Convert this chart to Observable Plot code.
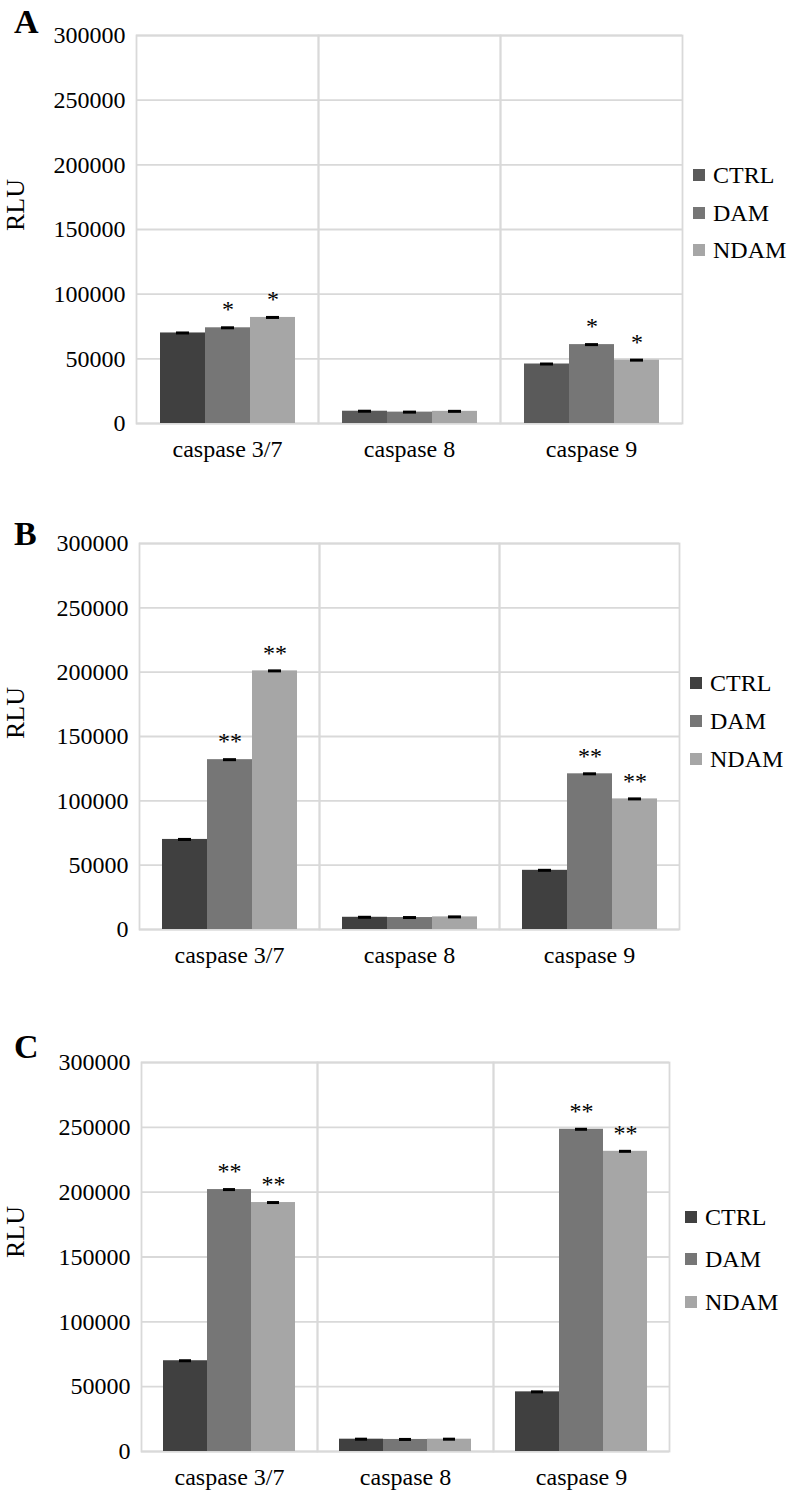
<!DOCTYPE html>
<html>
<head>
<meta charset="utf-8">
<script src="https://cdn.jsdelivr.net/npm/d3@7"></script>
<script src="https://cdn.jsdelivr.net/npm/@observablehq/plot@0.6"></script>
<style>
  html, body { margin: 0; padding: 0; background: #fff; }
  #chart { position: relative; width: 787px; height: 1495px; overflow: hidden; }
  #chart svg { position: absolute; left: 0; }
  #chart svg text { font-family: 'Liberation Serif', 'Times New Roman', serif !important; }
</style>
</head>
<body>
<div id="chart"></div>
<script>
// ---- Data ----
const categories = ["caspase 3/7", "caspase 8", "caspase 9"];
const groups = ["CTRL", "DAM", "NDAM"];
const yTicks = [0, 50000, 100000, 150000, 200000, 250000, 300000];

// Panel A
const A_CTRL = [70000, 9500, 46000];
const A_DAM  = [74000, 8800, 61000];
const A_NDAM = [82000, 9400, 49000];
const A_sig_CTRL = ["", "", ""];
const A_sig_DAM  = ["*", "", "*"];
const A_sig_NDAM = ["*", "", "*"];

// Panel B
const B_CTRL = [70000, 9500, 46000];
const B_DAM  = [132000, 9300, 121000];
const B_NDAM = [201000, 9800, 101500];
const B_sig_CTRL = ["", "", ""];
const B_sig_DAM  = ["**", "", "**"];
const B_sig_NDAM = ["**", "", "**"];

// Panel C
const C_CTRL = [70000, 9500, 46000];
const C_DAM  = [202000, 9300, 248500];
const C_NDAM = [192000, 9500, 231500];
const C_sig_CTRL = ["", "", ""];
const C_sig_DAM  = ["**", "", "**"];
const C_sig_NDAM = ["**", "", "**"];

// ---- Styles ----
const fontFamily = "'Liberation Serif', 'Times New Roman', serif";
const gridColor = "#d9d9d9";
const baseColors = {CTRL: "#404040", DAM: "#767676", NDAM: "#a6a6a6"};

const panels = [
  {letter: "A", values: {CTRL: A_CTRL, DAM: A_DAM, NDAM: A_NDAM},
   sig: {CTRL: A_sig_CTRL, DAM: A_sig_DAM, NDAM: A_sig_NDAM},
   ctrlColors: ["#404040", "#5a5a5a", "#5a5a5a"], legendCtrl: "#5a5a5a",
   top: 0, height: 480, mt: 35, mb: 57, ml: 135, mr: 105,
   letterY: 33, rluY: 205, legendX: 693, legendY: [175, 213, 250]},
  {letter: "B", values: {CTRL: B_CTRL, DAM: B_DAM, NDAM: B_NDAM},
   sig: {CTRL: B_sig_CTRL, DAM: B_sig_DAM, NDAM: B_sig_NDAM},
   ctrlColors: ["#404040", "#404040", "#404040"], legendCtrl: "#404040",
   top: 500, height: 490, mt: 43, mb: 61, ml: 138, mr: 108,
   letterY: 45, rluY: 213, legendX: 690, legendY: [183, 221, 259]},
  {letter: "C", values: {CTRL: C_CTRL, DAM: C_DAM, NDAM: C_NDAM},
   sig: {CTRL: C_sig_CTRL, DAM: C_sig_DAM, NDAM: C_sig_NDAM},
   ctrlColors: ["#404040", "#404040", "#404040"], legendCtrl: "#404040",
   top: 1010, height: 485, mt: 52, mb: 44, ml: 140, mr: 118,
   letterY: 48, rluY: 222, legendX: 685, legendY: [207, 249, 292]}
];

const container = document.getElementById("chart");

for (const p of panels) {
  const data = [];
  categories.forEach((c, i) => {
    groups.forEach(g => {
      data.push({cat: c, group: g, value: p.values[g][i], sig: p.sig[g][i],
                 color: g === "CTRL" ? p.ctrlColors[i] : baseColors[g]});
    });
  });

  const svg = Plot.plot({
    width: 787,
    height: p.height,
    marginTop: p.mt,
    marginBottom: p.mb,
    marginLeft: p.ml,
    marginRight: p.mr,
    style: {fontFamily, fontSize: "24px", color: "#000", background: "transparent"},
    fx: {domain: categories, padding: 0, label: null},
    x: {domain: groups, paddingInner: 0, paddingOuter: 0.5, axis: null},
    y: {domain: [0, 300000]},
    color: {type: "identity"},
    marks: [
      Plot.gridY(yTicks, {stroke: gridColor, strokeOpacity: 1, strokeWidth: 1.8}),
      Plot.frame({stroke: gridColor, strokeWidth: 1.8}),
      Plot.barY(data, {fx: "cat", x: "group", y: "value", fill: "color"}),
      Plot.tickY(data, {fx: "cat", x: "group", y: "value", stroke: "#000", strokeWidth: 3, inset: 16}),
      Plot.text(data, {fx: "cat", x: "group", y: "value", text: "sig", dy: -18, fontSize: 24, fill: "#000"}),
      Plot.axisY({ticks: yTicks, tickSize: 0, tickPadding: 11, tickFormat: d => String(d), label: null, fontSize: 24}),
      Plot.axisFx({anchor: "bottom", tickSize: 0, tickPadding: 16, label: null, fontSize: 24})
    ]
  });
  svg.style.top = p.top + "px";
  svg.style.fontFamily = fontFamily;
  const s = d3.select(svg);

  // Panel letter
  s.append("text")
    .attr("x", 14).attr("y", p.letterY)
    .attr("text-anchor", "start")
    .attr("font-weight", "bold")
    .attr("font-size", 34).attr("fill", "#000")
    .text(p.letter);

  // Y axis title
  s.append("text")
    .attr("transform", `translate(24,${p.rluY}) rotate(-90)`)
    .attr("text-anchor", "middle")
    .attr("font-size", 26).attr("fill", "#000")
    .text("RLU");

  // Legend
  groups.forEach((g, i) => {
    const cy = p.legendY[i];
    s.append("rect")
      .attr("x", p.legendX).attr("y", cy - 6).attr("width", 12).attr("height", 12)
      .attr("fill", g === "CTRL" ? p.legendCtrl : baseColors[g]);
    s.append("text")
      .attr("x", p.legendX + 20).attr("y", cy + 8)
      .attr("text-anchor", "start")
      .attr("font-size", 24).attr("fill", "#000")
      .text(g);
  });

  container.appendChild(svg);
}
</script>
</body>
</html>
